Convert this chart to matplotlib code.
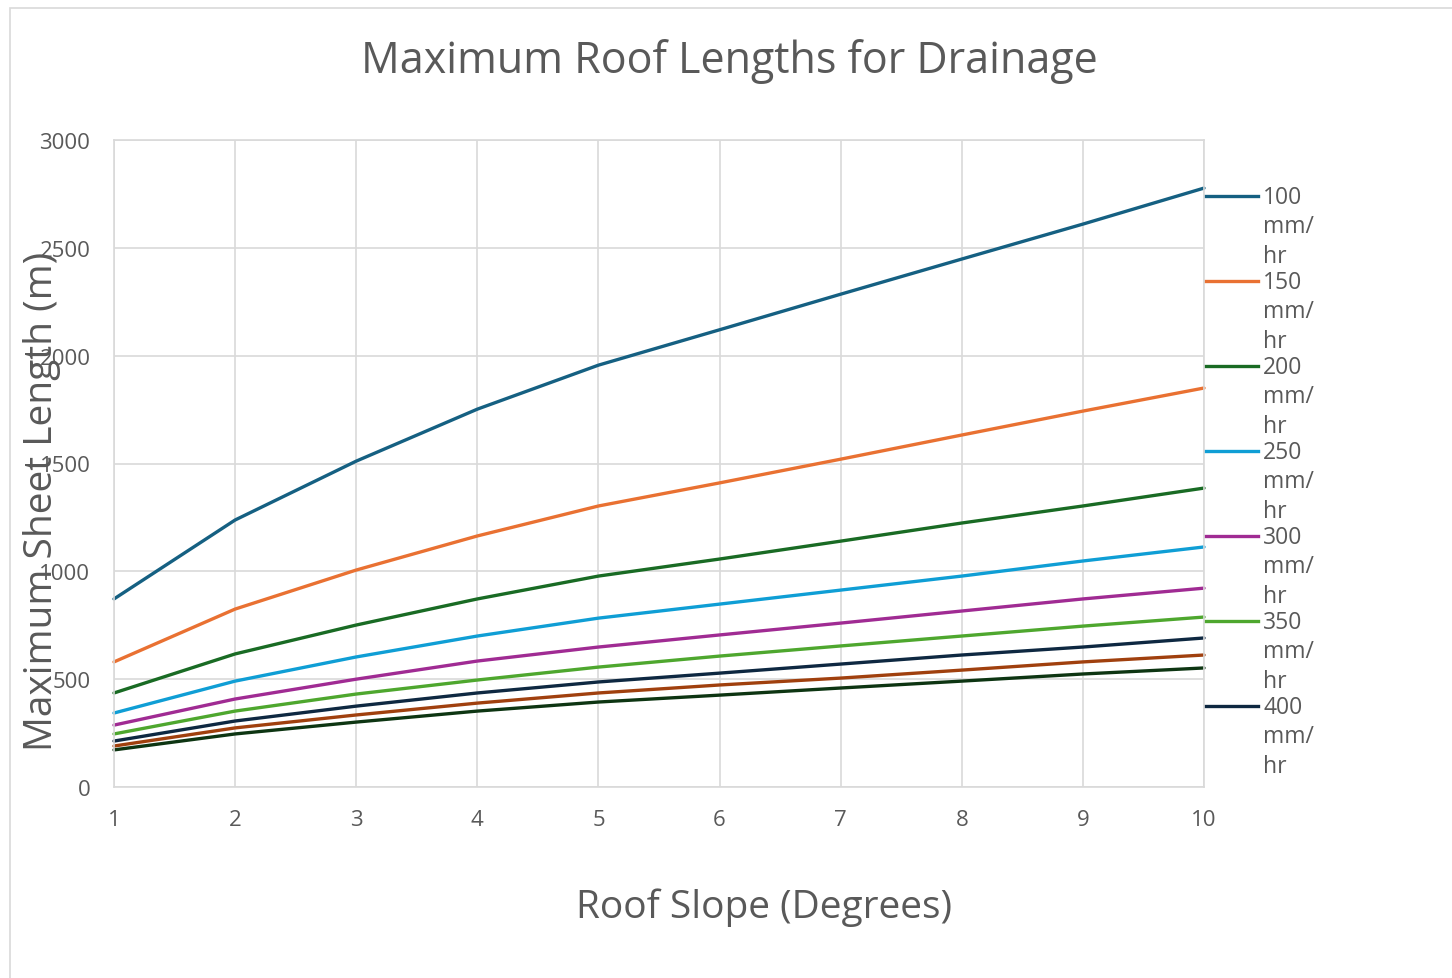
import numpy as np
import matplotlib
matplotlib.use("Agg")
import matplotlib.pyplot as plt
from matplotlib.lines import Line2D
from matplotlib.patches import Rectangle

plt.rcParams['font.family'] = ['Open Sans', 'DejaVu Sans']

# --- datos ---
pendientes = [1, 2, 3, 4, 5, 6, 7, 8, 9, 10]
intensidades = ['100 mm/hr', '150 mm/hr', '200 mm/hr', '250 mm/hr', '300 mm/hr',
                '350 mm/hr', '400 mm/hr', '450 mm/hr', '500 mm/hr']
l_100 = [872, 1238, 1511, 1752, 1956, 2120, 2285, 2448, 2610, 2777]
l_150 = [580, 825, 1006, 1164, 1303, 1410, 1520, 1632, 1743, 1850]
l_200 = [436, 617, 751, 872, 978, 1057, 1140, 1224, 1303, 1386]
l_250 = [343, 491, 603, 700, 783, 848, 913, 978, 1048, 1113]
l_300 = [287, 408, 500, 584, 649, 705, 760, 816, 872, 922]
l_350 = [246, 352, 431, 496, 556, 607, 654, 700, 746, 788]
l_400 = [213, 306, 375, 436, 487, 528, 570, 612, 649, 691]
l_450 = [190, 274, 334, 389, 436, 473, 505, 542, 580, 612]
l_500 = [172, 246, 301, 352, 394, 426, 459, 491, 524, 552]
series = [l_100, l_150, l_200, l_250, l_300, l_350, l_400, l_450, l_500]
colores = ['#156082', '#E97132', '#196B24', '#0F9ED5', '#A02B93',
           '#4EA72E', '#0E2841', '#A0400E', '#0D3512']
n_leyenda = 7   # la leyenda original sólo muestra 7 entradas

W, H = 1452, 979
fig = plt.figure(figsize=(W / 100, H / 100), dpi=100)
ax = fig.add_axes([114 / W, 1 - 788 / H, (1204 - 114) / W, (788 - 141) / H])

# marco exterior del gráfico
fig.add_artist(Rectangle((10 / W, -0.01), 1.2, 1 - 9 / H - (-0.01),
                         transform=fig.transFigure, fill=False,
                         edgecolor='#D9D9D9', linewidth=1.2))

for vals, col in zip(series, colores):
    ax.plot(pendientes, vals, color=col, linewidth=2.4, clip_on=False,
            solid_capstyle='round')

ax.set_xlim(1, 10)
ax.set_ylim(0, 3000)
ax.set_xticks(pendientes)
ax.set_yticks(np.arange(0, 3001, 500))
ax.grid(True, color='#D9D9D9', linewidth=1.2)
ax.set_axisbelow(True)
for s in ax.spines.values():
    s.set_color('#D9D9D9')
    s.set_linewidth(1.2)
ax.tick_params(length=0, labelsize=16, colors='#595959', pad=16)
ax.tick_params(axis='y', pad=17)

fig.text(729 / W, 1 - 62 / H, 'Maximum Roof Lengths for Drainage',
         ha='center', va='center', fontsize=31, color='#595959')
fig.text(764 / W, 1 - 908 / H, 'Roof Slope (Degrees)',
         ha='center', va='center', fontsize=28, color='#595959')
fig.text(42 / W, 1 - 501 / H, 'Maximum Sheet Length (m)', rotation=90,
         ha='center', va='center', fontsize=28, color='#595959')

# leyenda a mano, texto envuelto en tres líneas
for i in range(n_leyenda):
    y = 1 - (197 + 85 * i) / H
    fig.add_artist(Line2D([1206 / W, 1258 / W], [y, y], color=colores[i],
                          linewidth=2.4, transform=fig.transFigure))
    num, unidad = intensidades[i].split(' ')
    fig.text(1263 / W, y + 11 / H, f'{num}\n{unidad[:3]}\n{unidad[3:]}',
             ha='left', va='top', fontsize=16.5, color='#595959',
             linespacing=1.3)

fig.savefig('out.png', dpi=100)
